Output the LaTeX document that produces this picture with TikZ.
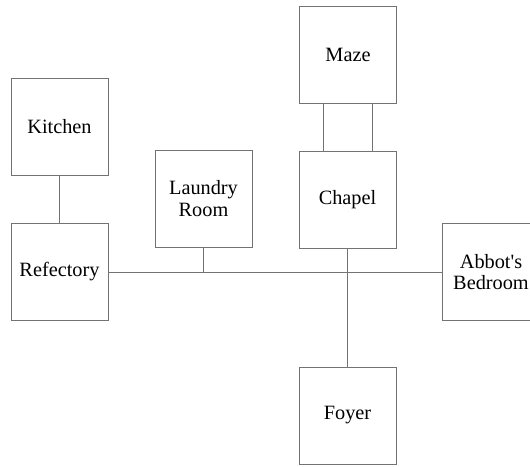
\documentclass[tikz,border=0pt]{standalone}
\usepackage{fontspec}
\setmainfont{Liberation Serif}
\begin{document}
\begin{tikzpicture}[x=1pt,y=1pt,
  room/.style={draw=black!55, line width=0.9pt, minimum width=97pt, minimum height=97pt,
    align=center, inner sep=0pt, font=\fontsize{20.3}{21.5}\selectfont, text=black},
  link/.style={draw=black!55, line width=0.9pt}]
\useasboundingbox (0,0) rectangle (530,466);
\clip (0,0) rectangle (530,466);
\node[room] (maze) at (348,411.5) {Maze};
\node[room] (kit)  at (59.5,339) {Kitchen};
\node[room] (lau)  at (203.5,267.5) {Laundry\\Room};
\node[room] (cha)  at (347.5,266.5) {Chapel};
\node[room] (ref)  at (59.5,194) {Refectory};
\node[room] (abb)  at (491,194) {Abbot\textquotesingle s\\Bedroom};
\node[room] (foy)  at (347.5,50.5) {Foyer};
\draw[link] (kit.south) -- (ref.north);
\draw[link] (ref.east) -- (abb.west);
\draw[link] (lau.south) -- (lau.south |- ref.east);
\draw[link] (cha.south) -- (foy.north);
\draw[link] ([xshift=-24.5pt]maze.south) -- ([xshift=-24.5pt]maze.south |- cha.north);
\draw[link] ([xshift=24.5pt]maze.south) -- ([xshift=24.5pt]maze.south |- cha.north);
\end{tikzpicture}
\end{document}
